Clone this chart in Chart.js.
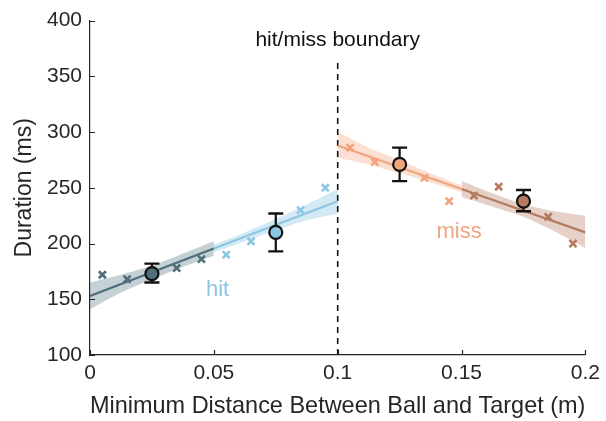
<!DOCTYPE html>
<html>
<head>
<meta charset="utf-8">
<script src="https://cdn.jsdelivr.net/npm/chart.js@4.4.1/dist/chart.umd.min.js"></script>
<style>
    html, body { margin: 0; padding: 0; background: #ffffff; }
    #wrap { width: 606px; height: 421px; }
</style>
</head>
<body>
<div id="wrap"><canvas id="graph_duration" width="606" height="421"></canvas></div>
<script>

// binned trial durations (crosses)
var HIT_DARK_X      = [0.005, 0.015, 0.035, 0.045];
var HIT_DARK_Y      = [172, 168, 178, 186];
var HIT_LIGHT_X     = [0.055, 0.065, 0.085, 0.095];
var HIT_LIGHT_Y     = [190, 202, 230, 250];
var MISS_LIGHT_X    = [0.105, 0.115, 0.135, 0.145];
var MISS_LIGHT_Y    = [286, 273, 259, 238];
var MISS_DARK_X     = [0.155, 0.165, 0.185, 0.195];
var MISS_DARK_Y     = [243, 251, 224, 200];

// group means with error bars
var MEAN_X          = [0.025, 0.075, 0.125, 0.175];
var MEAN_Y          = [173, 210, 271, 238];
var MEAN_LO         = [165, 193, 256, 229];
var MEAN_HI         = [182, 227, 286, 248];

// regression lines
var HIT_FIT_X       = [0, 0.05, 0.1];
var HIT_FIT_Y       = [153, 195.5, 238];
var MISS_FIT_X      = [0.1, 0.15, 0.2];
var MISS_FIT_Y      = [288, 249, 210];

// confidence bands
var BAND_HIT_DARK_X     = [0, 0.0125, 0.025, 0.0375, 0.05];
var BAND_HIT_DARK_HI    = [165, 172, 180, 191, 202];
var BAND_HIT_DARK_LO    = [141, 156, 168, 179, 189];
var BAND_HIT_LIGHT_X    = [0.05, 0.0625, 0.075, 0.0875, 0.1];
var BAND_HIT_LIGHT_HI   = [199, 210, 222, 235, 249];
var BAND_HIT_LIGHT_LO   = [192, 202, 212, 221, 227];
var BAND_MISS_LIGHT_X   = [0.1, 0.1125, 0.125, 0.1375, 0.15];
var BAND_MISS_LIGHT_HI  = [300, 286, 275, 263, 252];
var BAND_MISS_LIGHT_LO  = [277, 271, 263, 255, 246];
var BAND_MISS_DARK_X    = [0.15, 0.1625, 0.175, 0.1875, 0.2];
var BAND_MISS_DARK_HI   = [256, 245, 235, 229, 225];
var BAND_MISS_DARK_LO   = [242, 233, 224, 211, 196];

var BOUNDARY_X      = [0.1, 0.1];
var BOUNDARY_Y      = [100, 365];

var Y_TICKS         = [100, 150, 200, 250, 300, 350, 400];
var X_TICKS         = [0, 0.05, 0.1, 0.15, 0.2];

var COLOR_HIT_DARK      = '#4f6f7b';
var COLOR_HIT_LIGHT     = '#8cc6e3';
var COLOR_MISS_LIGHT    = '#f2a47f';
var COLOR_MISS_DARK     = '#b57b60';
var COLOR_AXIS          = '#262626';

var FONT_FAMILY     = '"Liberation Sans", Arial, sans-serif';

var TEXT_LABELS = [
    { text: 'hit',               x: 0.0515, y: 158, color: COLOR_HIT_LIGHT,  size: 22 },
    { text: 'miss',              x: 0.149,  y: 210, color: COLOR_MISS_LIGHT, size: 22 },
    { text: 'hit/miss boundary', x: 0.1,    y: 382, color: '#111111',        size: 21 },
];





function graph_points(xs, ys) {

    return xs.map(function(x, i) { return { x: x, y: ys[i] }; });
}



function graph_crosses(xs, ys, color) {

    return {
        type: 'scatter',
        data: graph_points(xs, ys),
        pointStyle: 'crossRot',
        pointRadius: 5,
        borderColor: color,
        backgroundColor: color,
        pointBorderWidth: 2.6,
        order: 2,
    };
}



function graph_fit_line(xs, ys, color) {

    return {
        type: 'line',
        data: graph_points(xs, ys),
        borderColor: color,
        borderWidth: 2.2,
        pointRadius: 0,
        fill: false,
        order: 3,
    };
}



function graph_band(xs, his, los, color) {

    return [
        {
            type: 'line',
            data: graph_points(xs, his),
            borderWidth: 0,
            pointRadius: 0,
            tension: 0.2,
            fill: false,
            order: 5,
        },
        {
            type: 'line',
            data: graph_points(xs, los),
            borderWidth: 0,
            pointRadius: 0,
            tension: 0.2,
            backgroundColor: color,
            fill: '-1',
            order: 5,
        },
    ];
}



function graph_error_bar(i) {

    return {
        type: 'line',
        data: [{ x: MEAN_X[i], y: MEAN_LO[i] }, { x: MEAN_X[i], y: MEAN_HI[i] }],
        borderColor: '#111111',
        borderWidth: 2.2,
        pointStyle: 'line',
        pointRadius: 7.5,
        pointBorderColor: '#111111',
        pointBorderWidth: 2.4,
        fill: false,
        order: 1,
    };
}



function graph_datasets() {

    var mean_colors = [COLOR_HIT_DARK, COLOR_HIT_LIGHT, COLOR_MISS_LIGHT, COLOR_MISS_DARK];
    var sets = [];

    sets = sets.concat(graph_band(BAND_HIT_DARK_X, BAND_HIT_DARK_HI, BAND_HIT_DARK_LO, 'rgba(79, 111, 123, 0.32)'));
    sets = sets.concat(graph_band(BAND_HIT_LIGHT_X, BAND_HIT_LIGHT_HI, BAND_HIT_LIGHT_LO, 'rgba(140, 198, 227, 0.38)'));
    sets = sets.concat(graph_band(BAND_MISS_LIGHT_X, BAND_MISS_LIGHT_HI, BAND_MISS_LIGHT_LO, 'rgba(242, 164, 127, 0.35)'));
    sets = sets.concat(graph_band(BAND_MISS_DARK_X, BAND_MISS_DARK_HI, BAND_MISS_DARK_LO, 'rgba(181, 123, 96, 0.35)'));

    sets.push(graph_fit_line(HIT_FIT_X.slice(0, 2), HIT_FIT_Y.slice(0, 2), COLOR_HIT_DARK));
    sets.push(graph_fit_line(HIT_FIT_X.slice(1), HIT_FIT_Y.slice(1), COLOR_HIT_LIGHT));
    sets.push(graph_fit_line(MISS_FIT_X.slice(0, 2), MISS_FIT_Y.slice(0, 2), COLOR_MISS_LIGHT));
    sets.push(graph_fit_line(MISS_FIT_X.slice(1), MISS_FIT_Y.slice(1), COLOR_MISS_DARK));

    sets.push({
        type: 'line',
        data: graph_points(BOUNDARY_X, BOUNDARY_Y),
        borderColor: '#111111',
        borderWidth: 1.6,
        borderDash: [6, 5],
        pointRadius: 0,
        fill: false,
        order: 4,
    });

    sets.push(graph_crosses(HIT_DARK_X, HIT_DARK_Y, COLOR_HIT_DARK));
    sets.push(graph_crosses(HIT_LIGHT_X, HIT_LIGHT_Y, COLOR_HIT_LIGHT));
    sets.push(graph_crosses(MISS_LIGHT_X, MISS_LIGHT_Y, COLOR_MISS_LIGHT));
    sets.push(graph_crosses(MISS_DARK_X, MISS_DARK_Y, COLOR_MISS_DARK));

    for (var i = 0; i < MEAN_X.length; i++) {

        sets.push(graph_error_bar(i));

        sets.push({
            type: 'scatter',
            data: [{ x: MEAN_X[i], y: MEAN_Y[i] }],
            pointStyle: 'circle',
            pointRadius: 6.5,
            backgroundColor: mean_colors[i],
            borderColor: '#111111',
            pointBorderWidth: 2.2,
            order: 0,
        });
    }

    return sets;
}





/**-- Plugins: inward tick marks and text labels --**/

var plugin_ticks = {
    id: 'inward_ticks',
    afterDatasetsDraw: function(chart) {

        var ctx = chart.ctx;
        var xs = chart.scales.x;
        var ys = chart.scales.y;
        var area = chart.chartArea;

        ctx.save();
        ctx.strokeStyle = COLOR_AXIS;
        ctx.lineWidth = 1.2;
        ctx.beginPath();

        Y_TICKS.forEach(function(v) {
            var py = Math.round(ys.getPixelForValue(v)) + 0.5;
            ctx.moveTo(area.left, py);
            ctx.lineTo(area.left + 5, py);
        });

        X_TICKS.forEach(function(v) {
            var px = Math.round(xs.getPixelForValue(v)) + 0.5;
            ctx.moveTo(px, area.bottom);
            ctx.lineTo(px, area.bottom - 5);
        });

        ctx.stroke();
        ctx.restore();
    }
};



var plugin_labels = {
    id: 'text_labels',
    afterDatasetsDraw: function(chart) {

        var ctx = chart.ctx;

        ctx.save();
        ctx.textAlign = 'center';
        ctx.textBaseline = 'middle';

        TEXT_LABELS.forEach(function(l) {
            ctx.fillStyle = l.color;
            ctx.font = l.size + 'px ' + FONT_FAMILY;
            ctx.fillText(l.text, chart.scales.x.getPixelForValue(l.x), chart.scales.y.getPixelForValue(l.y));
        });

        ctx.restore();
    }
};





function graph_options() {

    return {
        responsive: false,
        animation: false,
        layout: {
            padding: { top: 20, right: 16, left: 0, bottom: 0 }
        },
        scales: {
            x: {
                type: 'linear',
                min: 0,
                max: 0.2,
                afterBuildTicks: function(scale) { scale.ticks = X_TICKS.map(function(v) { return { value: v }; }); },
                afterFit: function(scale) { scale.height = 66; },
                ticks: {
                    color: COLOR_AXIS,
                    padding: 6,
                    font: { family: FONT_FAMILY, size: 21 },
                    callback: function(value) { return String(value); }
                },
                grid: { display: false, drawTicks: false },
                border: { display: true, color: COLOR_AXIS, width: 1.2 },
                title: {
                    display: true,
                    text: 'Minimum Distance Between Ball and Target (m)',
                    color: COLOR_AXIS,
                    font: { family: FONT_FAMILY, size: 24 },
                    padding: { top: 0, bottom: 0 }
                }
            },
            y: {
                type: 'linear',
                min: 100,
                max: 400,
                afterBuildTicks: function(scale) { scale.ticks = Y_TICKS.map(function(v) { return { value: v }; }); },
                afterFit: function(scale) { scale.width = 90; },
                ticks: {
                    color: COLOR_AXIS,
                    padding: 8,
                    font: { family: FONT_FAMILY, size: 21 }
                },
                grid: { display: false, drawTicks: false },
                border: { display: true, color: COLOR_AXIS, width: 1.2 },
                title: {
                    display: true,
                    text: 'Duration (ms)',
                    color: COLOR_AXIS,
                    font: { family: FONT_FAMILY, size: 23 },
                    padding: { top: 11, bottom: 0 }
                }
            }
        },
        plugins: {
            legend: { display: false },
            tooltip: { enabled: false }
        }
    };
}



function graph_draw() {

    new Chart(document.getElementById('graph_duration'), {
        type: 'scatter',
        data: { datasets: graph_datasets() },
        options: graph_options(),
        plugins: [plugin_ticks, plugin_labels],
    });
}

graph_draw();

</script>
</body>
</html>
